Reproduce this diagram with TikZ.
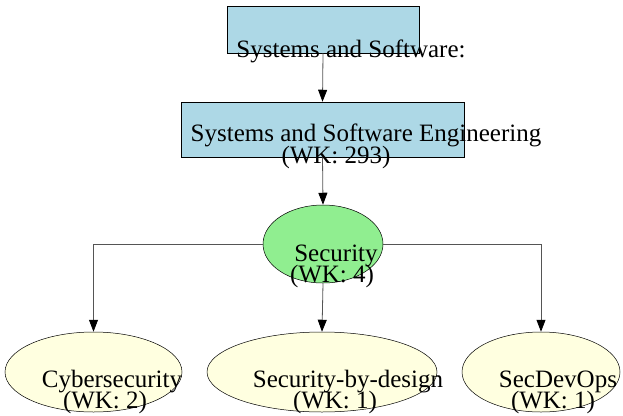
\documentclass[tikz,border=0pt]{standalone}
\usepackage{fontspec}
\setmainfont{Liberation Serif}
\usetikzlibrary{shapes.geometric,arrows.meta}
\definecolor{lblue}{HTML}{ADD8E6}
\definecolor{lgreen}{HTML}{90EE90}
\definecolor{lyellow}{HTML}{FFFFE0}
\definecolor{edgec}{HTML}{555555}
\begin{document}
\begin{tikzpicture}[x=1pt,y=-1pt,
  boxnode/.style={draw=black, line width=0.5pt, fill=lblue, rectangle, inner sep=0pt},
  ellnode/.style={draw=black, line width=0.5pt, ellipse, inner sep=0pt},
  lbl/.style={font=\fontsize{25}{26}\selectfont, anchor=base, inner sep=0pt, text=black},
  edge/.style={draw=edgec, line width=0.8pt, -{Triangle[length=12pt,width=9pt,color=black]}}]
\useasboundingbox (0,0) rectangle (623,415);
\node[boxnode, minimum width=192pt, minimum height=47pt] (top) at (323,29.5) {};
\node[boxnode, minimum width=283pt, minimum height=55pt] (eng) at (322.5,129.5) {};
\node[ellnode, fill=lgreen, minimum width=120pt, minimum height=78pt] (sec) at (323,244) {};
\node[ellnode, fill=lyellow, minimum width=177pt, minimum height=80pt] (cyb) at (93.5,372) {};
\node[ellnode, fill=lyellow, minimum width=230pt, minimum height=80pt] (sbd) at (322,372) {};
\node[ellnode, fill=lyellow, minimum width=158pt, minimum height=80pt] (sdo) at (541,372) {};
\draw[edge] (top.south) -- (eng.north);
\draw[edge] (eng.south) -- (sec.north);
\draw[edge] (sec.south) -- (sbd.north);
\draw[edge] (sec.west) -| (cyb.north);
\draw[edge] (sec.east) -| (sdo.north);
\node[lbl] (ttop) at (351,57) {Systems and Software:};
\node[lbl] (teng) at (366,141) {Systems and Software Engineering};
\node[lbl] (tengw) at (336,163) {(WK: 293)};
\node[lbl] (tsec) at (336,261) {Security};
\node[lbl] (tsecw) at (332,282) {(WK: 4)};
\node[lbl] (tcyb) at (112,387) {Cybersecurity};
\node[lbl] (tcybw) at (105,408) {(WK: 2)};
\node[lbl] (tsbd) at (348,387) {Security-by-design};
\node[lbl] (tsbdw) at (335,408) {(WK: 1)};
\node[lbl] (tsdo) at (558,387) {SecDevOps};
\node[lbl] (tsdow) at (553,408) {(WK: 1)};
\end{tikzpicture}
\end{document}
